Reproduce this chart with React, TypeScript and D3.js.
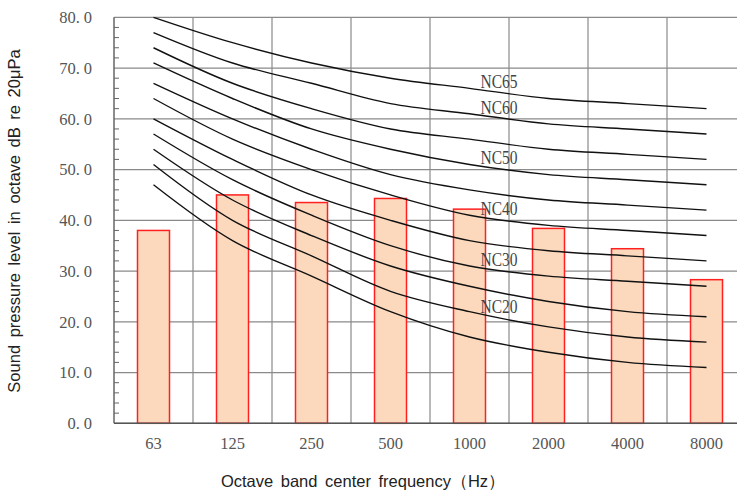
import React from "react";
import * as d3 from "d3";

const categories = ["63", "125", "250", "500", "1000", "2000", "4000", "8000"];
const measured = [38, 45, 43.5, 44.3, 42.2, 38.4, 34.4, 28.3];

const nc15 = [47, 36, 29, 22, 17, 14, 12, 11];
const nc20 = [51, 40, 33, 26, 22, 19, 17, 16];
const nc25 = [54, 44, 37, 31, 27, 24, 22, 21];
const nc30 = [57, 48, 41, 35, 31, 29, 28, 27];
const nc35 = [60, 52, 45, 40, 36, 34, 33, 32];
const nc40 = [64, 56, 50, 45, 41, 39, 38, 37];
const nc45 = [67, 60, 54, 49, 46, 44, 43, 42];
const nc50 = [71, 64, 58, 54, 51, 49, 48, 47];
const nc55 = [74, 67, 62, 58, 56, 54, 53, 52];
const nc60 = [77, 71, 67, 63, 61, 59, 58, 57];
const nc65 = [80, 75, 71, 68, 66, 64, 63, 62];

const ncCurves = [
  { name: "NC15", values: nc15 },
  { name: "NC20", values: nc20 },
  { name: "NC25", values: nc25 },
  { name: "NC30", values: nc30 },
  { name: "NC35", values: nc35 },
  { name: "NC40", values: nc40 },
  { name: "NC45", values: nc45 },
  { name: "NC50", values: nc50 },
  { name: "NC55", values: nc55 },
  { name: "NC60", values: nc60 },
  { name: "NC65", values: nc65 },
];
const labeledCurves = ["NC65", "NC60", "NC50", "NC40", "NC30", "NC20"];

const yTicks = [0, 10, 20, 30, 40, 50, 60, 70, 80];
const yMinorTicks = d3.range(0, 80, 2).filter((v) => v % 10 !== 0);

const W = 737;
const H = 490;
const left = 114;
const bandW = 79;
const top = 17.3;
const bottom = 423.3;

export default function App() {
  const x = d3
    .scaleBand<string>()
    .domain(categories)
    .range([left, left + bandW * categories.length])
    .padding(0);
  const y = d3.scaleLinear().domain([0, 80]).range([bottom, top]);
  const cx = (c: string) => (x(c) as number) + x.bandwidth() / 2;
  const barW = x.bandwidth() * 0.405;

  const line = d3
    .line<number>()
    .x((_, i) => cx(categories[i]))
    .y((v) => y(v))
    .curve(d3.curveCatmullRom.alpha(0.5));

  const serif = "'Liberation Serif', 'DejaVu Serif', serif";
  const sans = "'Liberation Sans', Arial, sans-serif";

  const boundaries = categories.map((c) => x(c) as number).concat([left + bandW * categories.length]);

  return (
    <svg
      width={W}
      height={H}
      style={{ position: "absolute", left: 0, top: 0, background: "#fff" }}
    >
      {/* horizontal gridlines */}
      {yTicks.map((t) => (
        <line key={"h" + t} x1={left} x2={W + 20} y1={y(t)} y2={y(t)} stroke="#8a8a8a" strokeWidth={1.2} />
      ))}
      {/* vertical gridlines */}
      {boundaries.slice(1).map((b, i) => (
        <line key={"v" + i} x1={b} x2={b} y1={top} y2={bottom} stroke="#8a8a8a" strokeWidth={1.2} />
      ))}
      {/* minor ticks */}
      {yMinorTicks.map((t) => (
        <line key={"m" + t} x1={left} x2={left + 5} y1={y(t)} y2={y(t)} stroke="#666" strokeWidth={1} />
      ))}
      {/* bars */}
      {categories.map((c, i) => (
        <rect
          key={"b" + c}
          x={cx(c) - barW / 2}
          y={y(measured[i])}
          width={barW}
          height={y(0) - y(measured[i])}
          fill="#FCD9BD"
          stroke="#FF2020"
          strokeWidth={1.5}
        />
      ))}
      {/* axes */}
      <line x1={left} x2={left} y1={top} y2={bottom} stroke="#666" strokeWidth={1.5} />
      <line x1={left} x2={W + 20} y1={bottom} y2={bottom} stroke="#555" strokeWidth={1.5} />
      {/* NC curves */}
      {ncCurves.map((c) => (
        <path key={c.name} d={line(c.values) || ""} fill="none" stroke="#111" strokeWidth={1.4} />
      ))}
      {/* curve labels */}
      {ncCurves
        .filter((c) => labeledCurves.includes(c.name))
        .map((c) => {
          const v = c.values[4] + (c.values[5] - c.values[4]) * 0.38;
          return (
            <text
              key={"l" + c.name}
              x={cx("1000") + 11}
              y={y(v) - 4}
              fontFamily={serif}
              fontSize={18}
              fill="#444"
              textLength={37}
              lengthAdjust="spacingAndGlyphs"
            >
              {c.name}
            </text>
          );
        })}
      {/* y tick labels */}
      {yTicks.map((t) => {
        const s = t.toFixed(1);
        const [a, b] = s.split(".");
        return (
          <text
            key={"yt" + t}
            x={92}
            y={y(t)}
            dy="0.35em"
            textAnchor="end"
            fontFamily={serif}
            fontSize={16.5}
            fill="#555"
          >
            <tspan>{a + "."}</tspan>
            <tspan dx={4}>{b}</tspan>
          </text>
        );
      })}
      {/* x tick labels */}
      {categories.map((c) => (
        <text
          key={"xt" + c}
          x={cx(c)}
          y={443}
          dy="0.35em"
          textAnchor="middle"
          fontFamily={serif}
          fontSize={16.5}
          fill="#555"
        >
          {c}
        </text>
      ))}
      {/* axis titles */}
      <text
        x={363}
        y={481}
        dy="0.35em"
        textAnchor="middle"
        fontFamily={sans}
        fontSize={16.5}
        wordSpacing={3}
        fill="#222"
      >
        Octave band center frequency（Hz）
      </text>
      <text
        transform={`translate(14,221) rotate(-90)`}
        textAnchor="middle"
        dy="0.35em"
        fontFamily={sans}
        fontSize={16.5}
        wordSpacing={3}
        fill="#222"
      >
        Sound pressure level in octave dB re 20μPa
      </text>
    </svg>
  );
}
